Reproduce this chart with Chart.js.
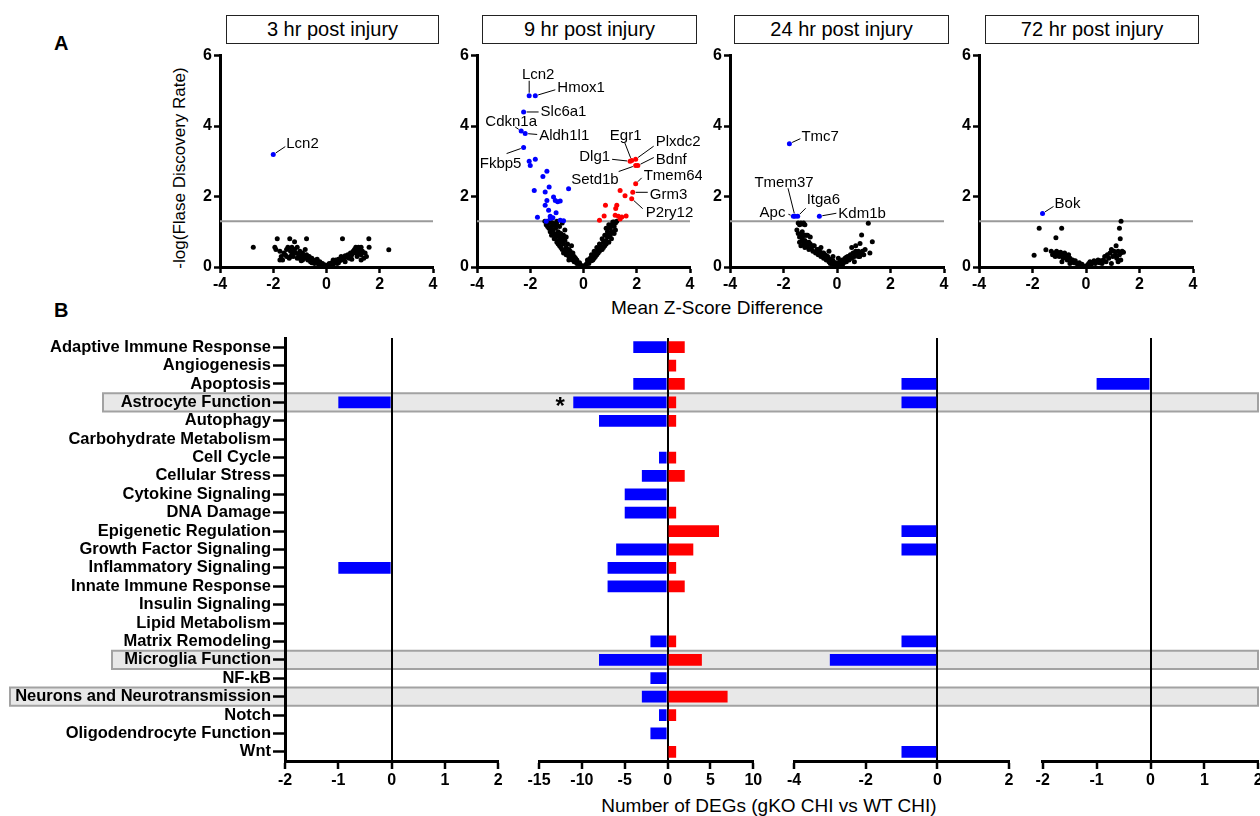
<!DOCTYPE html>
<html><head><meta charset="utf-8">
<script src="https://cdn.jsdelivr.net/npm/chart.js@4.4.1/dist/chart.umd.min.js"></script>
<style>
body{margin:0;background:#fff;}
#wrap{position:relative;width:1260px;height:816px;overflow:hidden;background:#fff;font-family:"Liberation Sans",Arial,Helvetica,sans-serif;color:#000;}
canvas{position:absolute;}
.ttl{position:absolute;top:15px;height:29px;box-sizing:border-box;border:1.5px solid #222;font-size:20px;line-height:26px;text-align:center;white-space:nowrap;}
.txt{position:absolute;white-space:nowrap;text-align:center;}
</style></head>
<body><div id="wrap">
<div class="txt" style="left:54px;top:33px;font-weight:bold;font-size:20px;line-height:20px;text-align:left;">A</div>
<div class="txt" style="left:54px;top:300px;font-weight:bold;font-size:20px;line-height:20px;text-align:left;">B</div>
<div class="ttl" style="left:226px;width:213px;">3 hr post injury</div>
<div class="ttl" style="left:482px;width:215px;">9 hr post injury</div>
<div class="ttl" style="left:734px;width:215px;">24 hr post injury</div>
<div class="ttl" style="left:985px;width:214px;">72 hr post injury</div>
<div class="txt" style="left:30px;top:158px;width:300px;font-size:17px;line-height:20px;transform:rotate(-90deg);transform-origin:150px 10px;">-log(Flase Discovery Rate)</div>
<div class="txt" style="left:517px;top:297px;width:400px;font-size:19px;line-height:22px;">Mean Z-Score Difference</div>
<div class="txt" style="left:569px;top:795px;width:400px;font-size:19px;line-height:22px;">Number of DEGs (gKO CHI vs WT CHI)</div>
</div>
<script>
// ---------------- Panel A data (x = mean z-score difference, y = -log FDR) ----------------
const hr3Black = [[-2.75,0.56],[-1.94,0.56],[-1.85,0.8],[-1.38,0.8],[-0.75,0.8],[0.6,0.8],[1.59,0.8],[2.34,0.49],[1.6,0.56],
[-1.9,0.5],[-1.75,0.45],[-1.7,0.3],[-1.65,0.2],[-1.6,0.4],[-1.55,0.35],[-1.5,0.5],[-1.45,0.56],[-1.4,0.25],[-1.35,0.45],[-1.3,0.56],[-1.3,0.35],[-1.25,0.3],[-1.2,0.72],[-1.2,0.5],[-1.15,0.4],[-1.1,0.56],[-1.1,0.25],[-1.05,0.35],[-1.0,0.45],[-0.95,0.3],[-0.9,0.4],[-0.9,0.2],[-0.85,0.3],[-0.8,0.5],[-0.8,0.25],[-0.75,0.35],[-0.7,0.2],[-0.65,0.3],[-0.6,0.15],[-0.55,0.25],[-0.5,0.18],[-0.45,0.1],[-0.4,0.2],[-0.35,0.12],[-0.3,0.08],[-0.25,0.15],[-0.2,0.05],[-0.15,0.1],[-0.1,0.03],[-0.05,0.06],[0,0.02],
[0.05,0.05],[0.1,0.1],[0.15,0.03],[0.2,0.12],[0.25,0.08],[0.3,0.15],[0.35,0.2],[0.4,0.1],[0.45,0.22],[0.5,0.18],[0.55,0.3],[0.6,0.25],[0.65,0.2],[0.7,0.32],[0.75,0.28],[0.8,0.35],[0.85,0.25],[0.9,0.4],[0.95,0.35],[1.0,0.45],[1.05,0.5],[1.1,0.56],[1.1,0.4],[1.15,0.3],[1.2,0.56],[1.2,0.45],[1.25,0.5],[1.3,0.56],[1.3,0.35],[1.35,0.45],[1.4,0.25],[1.45,0.4],[1.5,0.3],[-1.75,0.2],[-1.5,0.3],[1.3,0.2],
[-1.35,0.3],[-1.0,0.25],[-0.7,0.3],[-0.55,0.12],[-0.35,0.22],[0.25,0.2],[0.45,0.12],[0.7,0.15],[0.95,0.22],[1.15,0.5],[1.25,0.38],[-1.25,0.42],[-0.95,0.18]];
const hr3Down = [[-2.0,3.19,'Lcn2']];
const hr3Up = [];

const hr9Black = [[-1.45,1.3],[-1.4,1.2],[-1.35,1.28],[-1.3,1.1],[-1.3,1.25],[-1.25,1.0],[-1.25,1.3],[-1.2,1.15],[-1.2,0.9],[-1.15,1.05],[-1.15,1.25],[-1.1,0.95],[-1.1,0.8],[-1.1,1.2],[-1.05,1.1],[-1.0,0.7],[-1.0,0.9],[-1.0,1.3],[-0.95,1.0],[-0.95,0.75],[-0.9,0.6],[-0.9,0.85],[-0.9,1.15],[-0.85,0.95],[-0.85,0.7],[-0.8,0.5],[-0.8,0.8],[-0.8,1.25],[-0.75,0.65],[-0.75,0.9],[-0.7,0.45],[-0.7,0.75],[-0.7,1.05],[-0.65,0.55],[-0.65,0.85],[-0.6,0.4],[-0.6,0.65],[-0.55,0.5],[-0.55,0.3],[-0.5,0.45],[-0.5,0.25],[-0.45,0.35],[-0.45,0.6],[-0.4,0.2],[-0.4,0.4],[-0.35,0.3],[-0.3,0.15],[-0.3,0.25],[-0.25,0.2],[-0.2,0.1],[-0.15,0.12],[-0.1,0.05],[-0.05,0.03],[0,0.01],[-1.0,1.2],[-1.3,1.3],
[0.05,0.04],[0.1,0.08],[0.15,0.12],[0.2,0.1],[0.2,0.2],[0.25,0.25],[0.3,0.18],[0.3,0.35],[0.35,0.3],[0.4,0.45],[0.4,0.25],[0.45,0.4],[0.5,0.55],[0.5,0.35],[0.55,0.5],[0.6,0.65],[0.6,0.45],[0.65,0.6],[0.7,0.8],[0.7,0.5],[0.75,0.7],[0.8,0.9],[0.8,0.6],[0.85,0.75],[0.9,1.0],[0.9,0.85],[0.95,0.7],[1.0,1.1],[1.0,0.9],[1.05,1.2],[1.05,0.8],[1.1,1.0],[1.1,1.28],[1.15,1.15],[1.15,0.95],[1.2,1.25],[1.2,1.05],[1.25,1.3],[0.95,1.2],[0.85,1.1],
[-1.35,1.15],[-1.2,1.05],[-1.05,0.85],[-0.95,0.65],[-0.85,0.55],[-0.75,0.4],[-0.65,0.35],[-0.55,0.2],[-0.35,0.15],[-0.25,0.1],[0.15,0.2],[0.35,0.2],[0.45,0.3],[0.55,0.4],[0.65,0.5],[0.75,0.55],[0.85,0.65],[0.95,0.9],[1.05,1.0],[1.15,1.28]];
const hr9Down = [[-2.04,4.86,'Lcn2'],[-1.81,4.86,'Hmox1'],[-2.25,4.40,'Slc6a1'],[-2.34,3.86,'Cdkn1a'],[-2.19,3.79,'Aldh1l1'],[-2.25,3.39,'Fkbp5'],
[-2.04,3.0],[-2.0,2.88],[-1.81,3.06],[-1.375,2.72],[-1.525,2.57],[-1.85,2.17],[-1.29,2.27],[-1.44,2.13],[-1.125,1.99],[-1.375,1.89],[-1.06,1.89],[-0.875,1.87],[-0.56,2.22],[-1.44,1.75],[-1.73,1.41],[-1.31,1.61],[-1.25,1.44],[-1.03,1.54],[-1.25,1.38],[-1.4,1.3],[-0.875,1.33],[-0.75,1.31],[-1.15,1.4],[-0.97,1.85]];
const hr9Up = [[1.81,3.02,'Egr1'],[1.96,3.06,'Plxdc2'],[1.75,3.0,'Dlg1'],[2.04,2.88,'Bdnf'],[1.96,2.88,'Setd1b'],[1.96,2.36,'Tmem64'],[1.85,2.12,'Grm3'],[1.81,1.94,'P2ry12'],
[1.375,2.17],[1.56,2.02],[0.825,1.75],[1.25,1.75],[1.21,1.66],[0.775,1.45],[0.6,1.33],[1.19,1.47],[1.31,1.44],[1.44,1.42],[1.6,1.45],[1.375,1.36]];

const hr24Black = [[-1.45,1.25],[-1.4,1.2],[-1.35,1.25],[-1.3,1.22],[-1.25,1.25],[-1.2,1.2],[-1.5,1.05],[-1.45,0.95],[-1.4,0.85],[-1.35,0.9],[-1.3,1.0],[-1.25,0.9],[-1.2,0.9],[-1.15,0.9],[-1.1,0.9],[-1.0,0.85],[-1.4,0.7],[-1.35,0.6],[-1.3,0.75],[-1.25,0.65],[-1.2,0.55],[-1.15,0.7],[-1.1,0.6],[-1.05,0.5],[-1.0,0.65],[-0.95,0.55],[-0.9,0.45],[-0.85,0.6],[-0.8,0.4],[-0.75,0.5],[-0.7,0.35],[-0.65,0.45],[-0.6,0.3],[-0.55,0.4],[-0.5,0.25],[-0.45,0.35],[-0.4,0.2],[-0.35,0.3],[-0.3,0.15],[-0.25,0.22],[-0.2,0.1],[-0.15,0.18],[-0.1,0.05],[-0.05,0.12],[0,0.03],[0.05,0.1],[0.1,0.15],[0.15,0.08],[0.2,0.2],[0.25,0.12],[0.3,0.25],[0.35,0.15],[0.4,0.3],[0.45,0.2],[0.5,0.35],[0.55,0.25],[0.6,0.4],[0.65,0.3],[0.7,0.45],[0.75,0.35],[0.8,0.45],[0.85,0.3],[0.9,0.4],[0.95,0.45],[1.0,0.35],[0.86,0.67],[0.92,0.91],[1.17,1.24],[1.32,0.72],[1.05,0.5],[0.7,0.6],[-0.3,0.45],[-0.6,0.55],[-0.15,0.3],[0.05,0.25],[1.23,0.4],[0.55,0.55],
[-1.3,0.85],[-1.2,0.75],[-1.05,0.7],[-0.9,0.6],[-0.7,0.5],[-0.5,0.4],[-0.4,0.32],[-0.25,0.1],[0.2,0.05],[0.35,0.28],[0.65,0.15],[0.8,0.3]];
const hr24Down = [[-1.78,3.5,'Tmc7'],[-1.63,1.44,'Apc'],[-1.57,1.44,'Tmem37'],[-1.47,1.44,'Itga6'],[-0.66,1.44,'Kdm1b']];
const hr24Up = [];

const hr72Black = [[-1.75,1.1],[-0.91,1.1],[-1.125,0.83],[-1.94,0.33],[-1.5,0.49],[1.31,1.3],[1.25,1.1],[1.28,0.8],[1.125,0.6],
[-1.3,0.45],[-1.25,0.35],[-1.2,0.4],[-1.15,0.3],[-1.1,0.45],[-1.05,0.38],[-1.0,0.3],[-0.95,0.42],[-0.9,0.35],[-0.85,0.25],[-0.8,0.4],[-0.75,0.3],[-0.7,0.2],[-0.65,0.35],[-0.6,0.25],[-0.55,0.15],[-0.5,0.2],[-0.45,0.12],[-0.4,0.18],[-0.35,0.1],[-0.3,0.08],[-0.25,0.12],[-0.2,0.05],[-0.15,0.08],[-0.1,0.03],[0,0.02],[0.05,0.05],[0.1,0.1],[0.15,0.15],[0.2,0.08],[0.25,0.12],[0.3,0.18],[0.35,0.1],[0.4,0.15],[0.45,0.2],[0.5,0.12],[0.55,0.18],[0.6,0.1],[0.65,0.2],[0.7,0.3],[0.75,0.15],[0.8,0.35],[0.85,0.25],[0.9,0.4],[0.95,0.5],[1.0,0.3],[1.05,0.45],[1.1,0.35],[1.15,0.25],[1.2,0.45],[1.25,0.35],[1.3,0.4],[1.35,0.45],[1.3,0.2],[1.4,0.42],[1.2,0.15],[-0.9,0.15],[-0.6,0.1],[0.95,0.1]];
const hr72Down = [[-1.625,1.52,'Bok']];
const hr72Up = [];

const volcanoXTicks = [-4,-2,0,2,4];
const volcanoYTicks = [0,2,4,6];
const fdrThreshold = 1.3;

// ---------------- Panel B data ----------------
const categories = ['Adaptive Immune Response','Angiogenesis','Apoptosis','Astrocyte Function','Autophagy','Carbohydrate Metabolism','Cell Cycle','Cellular Stress','Cytokine Signaling','DNA Damage','Epigenetic Regulation','Growth Factor Signaling','Inflammatory Signaling','Innate Immune Response','Insulin Signaling','Lipid Metabolism','Matrix Remodeling','Microglia Function','NF-kB','Neurons and Neurotransmission','Notch','Oligodendrocyte Function','Wnt'];
const deg3Down  = [0,0,0,-1,0,0,0,0,0,0,0,0,-1,0,0,0,0,0,0,0,0,0,0];
const deg3Up    = [0,0,0,0,0,0,0,0,0,0,0,0,0,0,0,0,0,0,0,0,0,0,0];
const deg9Down  = [-4,0,-4,-11,-8,0,-1,-3,-5,-5,0,-6,-7,-7,0,0,-2,-8,-2,-3,-1,-2,0];
const deg9Up    = [2,1,2,1,1,0,1,2,0,1,6,3,1,2,0,0,1,4,0,7,1,0,1];
const deg24Down = [0,0,-1,-1,0,0,0,0,0,0,-1,-1,0,0,0,0,-1,-3,0,0,0,0,-1];
const deg24Up   = [0,0,0,0,0,0,0,0,0,0,0,0,0,0,0,0,0,0,0,0,0,0,0];
const deg72Down = [0,0,-1,0,0,0,0,0,0,0,0,0,0,0,0,0,0,0,0,0,0,0,0];
const deg72Up   = [0,0,0,0,0,0,0,0,0,0,0,0,0,0,0,0,0,0,0,0,0,0,0];
const degTicks3 = [-2,-1,0,1,2];
const degTicks9 = [-15,-10,-5,0,5,10];
const degTicks24 = [-4,-2,0,2];
const degTicks72 = [-2,-1,0,1,2];
const highlightRows = ['Astrocyte Function','Microglia Function','Neurons and Neurotransmission'];
const significantRows9 = ['Astrocyte Function'];

// ---------------- Styles ----------------
const FONT = '"Liberation Sans", Arial, Helvetica, sans-serif';
const BLUE = '#0000ff', RED = '#ff0000';
const highlightLeft = {'Astrocyte Function':103,'Microglia Function':112,'Neurons and Neurotransmission':10};
// [textDx, textDy, align, lineEndDx, lineEndDy]
const labelStyle = {
  hr3: {Lcn2:[13,-11,'left',12,-8]},
  hr9: {Lcn2:[9,-21,'center',0,-15],Hmox1:[22,-8,'left',20,-6],Slc6a1:[17,0,'left',15,0],Cdkn1a:[-10,-9,'center',-6,-4],
        Aldh1l1:[14,2,'left',12,1],Fkbp5:[-23,16,'center',-17,6],Egr1:[-6,-25,'center',-7,-18],Plxdc2:[20,-17,'left',18,-13],
        Dlg1:[-20,-4,'right',-18,-2],Bdnf:[18,-6,'left',16,-8],Setd1b:[-17,14,'right',-17,6],Tmem64:[8,-8,'left',6,-6],
        Grm3:[17,3,'left',15,0],P2ry12:[14,14,'left',11,10]},
  hr24:{Tmc7:[12,-7,'left',11,-5],Tmem37:[-11,-33,'center',-7,-28],Itga6:[9,-16,'left',8,-8],Apc:[-8,-3,'right',-5,-2],Kdm1b:[19,-2,'left',17,-3]},
  hr72:{Bok:[12,-10,'left',11,-7]}
};

const wrap = document.getElementById('wrap');
function makeCanvas(left, top, w, h){
  const c = document.createElement('canvas');
  c.width = w; c.height = h; c.style.left = left+'px'; c.style.top = top+'px';
  c.style.width = w+'px'; c.style.height = h+'px';
  wrap.appendChild(c); return c;
}
const pts = arr => arr.map(p => ({x:p[0], y:p[1], gene:p[2]}));

const geneLabelPlugin = {
  id:'geneLabels',
  afterDatasetsDraw(chart, args, opts){
    const ctx = chart.ctx, xs = chart.scales.x, ys = chart.scales.y;
    const style = labelStyle[opts.key] || {};
    ctx.save();
    ctx.font = '15px ' + FONT; ctx.fillStyle = '#000'; ctx.strokeStyle = '#000'; ctx.lineWidth = 1;
    (opts.points || []).forEach(p => {
      if (!p[2] || !style[p[2]]) return;
      const [tx,ty,align,lx,ly] = style[p[2]];
      const px = xs.getPixelForValue(p[0]), py = ys.getPixelForValue(p[1]);
      const len = Math.hypot(lx,ly) || 1;
      ctx.beginPath(); ctx.moveTo(px+lx/len*3, py+ly/len*3); ctx.lineTo(px+lx, py+ly); ctx.stroke();
      ctx.textAlign = align; ctx.textBaseline = 'middle';
      ctx.fillText(p[2], px+tx, py+ty);
    });
    ctx.restore();
  }
};

function volcano(left, top, chartW, black, down, up, key){
  const padL = 10, yW = 40, padR = 12, padT = 10, xH = 28, chartH = 213;
  const c = makeCanvas(left - padL - yW, top - padT, padL + yW + chartW + padR, padT + chartH + xH);
  const axisCommon = {
    grid:{display:true, drawOnChartArea:false, drawTicks:true, tickLength:6, tickColor:'#000', tickWidth:2.5},
    border:{display:true, color:'#000', width:3},
  };
  const R = 2.5;
  new Chart(c, {
    type:'scatter',
    data:{datasets:[
      {data:pts(black), backgroundColor:'#000', pointRadius:R, pointBorderWidth:0, clip:false, order:3},
      {data:pts(down), backgroundColor:BLUE, pointRadius:R, pointBorderWidth:0, clip:false, order:2},
      {data:pts(up), backgroundColor:RED, pointRadius:R, pointBorderWidth:0, clip:false, order:1},
      {data:[{x:volcanoXTicks[0],y:fdrThreshold},{x:volcanoXTicks[volcanoXTicks.length-1],y:fdrThreshold}], showLine:true, borderColor:'#9a9a9a', borderWidth:2, pointRadius:0, order:10}
    ]},
    options:{
      responsive:false, animation:false, devicePixelRatio:1,
      layout:{padding:{left:padL, right:padR, top:padT, bottom:0}},
      plugins:{legend:{display:false}, tooltip:{enabled:false}, geneLabels:{points:[...down,...up], key:key}},
      scales:{
        x:Object.assign({type:'linear', min:volcanoXTicks[0], max:volcanoXTicks[volcanoXTicks.length-1],
          afterBuildTicks: s => { s.ticks = volcanoXTicks.map(v=>({value:v})); },
          afterFit: s => { s.height = xH; },
          ticks:{color:'#000', font:{family:FONT, size:16, weight:'bold'}, padding:2}}, axisCommon),
        y:Object.assign({type:'linear', min:volcanoYTicks[0], max:volcanoYTicks[volcanoYTicks.length-1],
          afterBuildTicks: s => { s.ticks = volcanoYTicks.map(v=>({value:v})); },
          afterFit: s => { s.width = yW; },
          ticks:{color:'#000', font:{family:FONT, size:16, weight:'bold'}, padding:2}}, axisCommon)
      }
    },
    plugins:[geneLabelPlugin]
  });
}

volcano(220, 54, 213, hr3Black, hr3Down, hr3Up, 'hr3');
volcano(477, 54, 213, hr9Black, hr9Down, hr9Up, 'hr9');
volcano(730, 54, 214, hr24Black, hr24Down, hr24Up, 'hr24');
volcano(979, 54, 214, hr72Black, hr72Down, hr72Up, 'hr72');

// ---------------- Panel B ----------------
const rowBoxPlugin = {
  id:'rowBoxes',
  beforeDraw(chart, args, opts){
    const ys = chart.scales.y, ctx = chart.ctx;
    const step = ys.getPixelForValue(1) - ys.getPixelForValue(0);
    ctx.save();
    highlightRows.forEach(name => {
      const i = categories.indexOf(name);
      const yc = ys.getPixelForValue(i);
      const t = yc - step/2, b = yc + step/2;
      const x0 = opts.first ? highlightLeft[name] - opts.canvasLeft : 0;
      const x1 = opts.last ? opts.rightEdge - opts.canvasLeft : chart.width;
      ctx.fillStyle = '#e8e8e8'; ctx.fillRect(x0, t, x1-x0, b-t);
      ctx.strokeStyle = '#a2a2a2'; ctx.lineWidth = 2;
      ctx.beginPath();
      ctx.moveTo(x0, t); ctx.lineTo(x1, t); ctx.moveTo(x0, b); ctx.lineTo(x1, b);
      if (opts.first){ ctx.moveTo(x0, t-1); ctx.lineTo(x0, b+1); }
      if (opts.last){ ctx.moveTo(x1, t-1); ctx.lineTo(x1, b+1); }
      ctx.stroke();
    });
    ctx.restore();
  },
  afterDatasetsDraw(chart, args, opts){
    if (!opts.sig) return;
    const ys = chart.scales.y, xs = chart.scales.x, ctx = chart.ctx;
    ctx.save();
    ctx.font = 'bold 24px ' + FONT; ctx.fillStyle = '#000'; ctx.textAlign = 'center'; ctx.textBaseline = 'middle';
    opts.sig.forEach(name => {
      const i = categories.indexOf(name);
      ctx.fillText('*', xs.getPixelForValue(opts.down[i]) - 13, ys.getPixelForValue(i) + 5);
    });
    ctx.restore();
  }
};

const B_TOP = 320, PAD_T = 18, CHART_H = 423, X_H = 40;
function degPanel(canvasLeft, canvasW, chartLeft, chartRight, down, up, tickVals, cfg){
  const c = makeCanvas(canvasLeft, B_TOP, canvasW, PAD_T + CHART_H + X_H);
  const showY = !!cfg.first;
  const padL = showY ? 0 : chartLeft - canvasLeft;
  const yW = showY ? chartLeft - canvasLeft : 0;
  const padR = canvasLeft + canvasW - chartRight;
  new Chart(c, {
    type:'bar',
    data:{labels:categories, datasets:[
      {data:down, backgroundColor:BLUE, borderWidth:0, grouped:false, barPercentage:0.64, categoryPercentage:1},
      {data:up, backgroundColor:RED, borderWidth:0, grouped:false, barPercentage:0.64, categoryPercentage:1}
    ]},
    options:{
      indexAxis:'y', responsive:false, animation:false, devicePixelRatio:1,
      layout:{padding:{left:padL, right:padR, top:PAD_T, bottom:0}},
      plugins:{legend:{display:false}, tooltip:{enabled:false},
        rowBoxes:{first:cfg.first, last:cfg.last, canvasLeft:canvasLeft, rightEdge:1258, sig:cfg.sig, down:down}},
      scales:{
        x:{type:'linear', min:tickVals[0], max:tickVals[tickVals.length-1],
          afterBuildTicks: s => { s.ticks = tickVals.map(v=>({value:v})); },
          afterFit: s => { s.height = X_H; },
          grid:{display:true, drawOnChartArea:true, color: ctx => (ctx.tick && ctx.tick.value === 0) ? '#000' : 'rgba(0,0,0,0)',
                lineWidth:2, tickLength:8, tickColor:'#000', tickWidth:2.5},
          border:{display:true, color:'#000', width:3},
          ticks:{color:'#000', font:{family:FONT, size:16, weight:'bold'}, padding:2}},
        y:{type:'category', display:showY, offset:true,
          afterFit: s => { if (showY) s.width = yW; },
          grid:{display:true, drawOnChartArea:false, offset:false, tickLength:12, tickColor:'#000', tickWidth:2.5},
          border:{display:true, color:'#000', width:3},
          ticks:{color:'#000', autoSkip:false, font:{family:FONT, size:16.5, weight:'bold'}, padding:2}}
      }
    },
    plugins:[rowBoxPlugin]
  });
}

degPanel(0, 520, 285, 498.3, deg3Down, deg3Up, degTicks3, {first:true});
degPanel(520, 255, 539, 753.3, deg9Down, deg9Up, degTicks9, {sig:significantRows9});
degPanel(775, 250, 794, 1009, deg24Down, deg24Up, degTicks24, {});
degPanel(1025, 245, 1042.7, 1258.3, deg72Down, deg72Up, degTicks72, {last:true});
</script>
</body></html>
